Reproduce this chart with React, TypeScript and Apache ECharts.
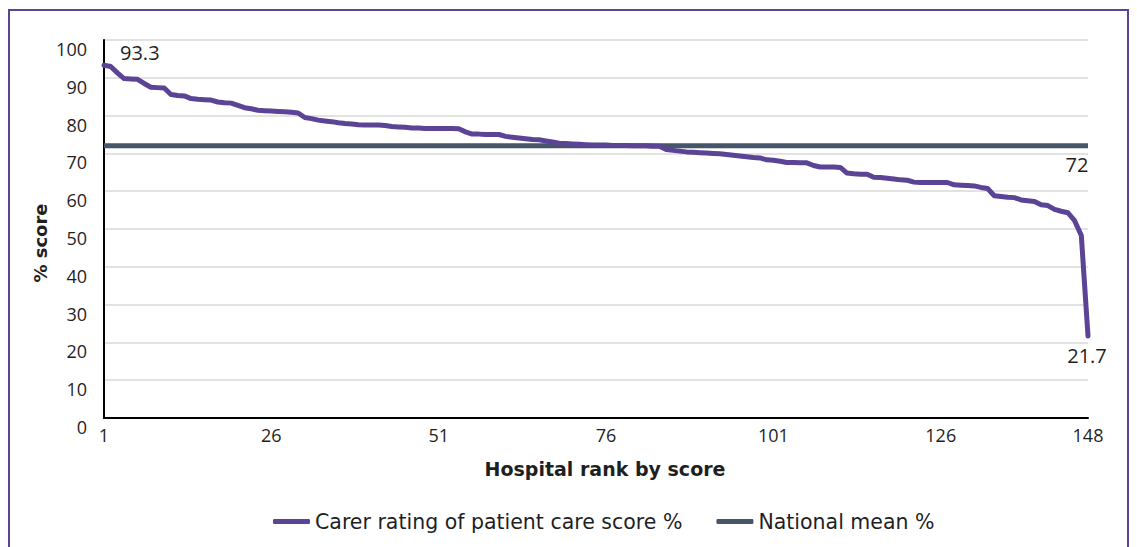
import React, { useEffect, useRef } from "react";
import * as echarts from "echarts";

const careScores: number[] = [
  93.3, 93.0, 91.3, 89.8, 89.7, 89.6, 88.5, 87.5, 87.4, 87.3,
  85.6, 85.3, 85.2, 84.5, 84.3, 84.2, 84.1, 83.6, 83.4, 83.3,
  82.7, 82.1, 81.8, 81.4, 81.3, 81.2, 81.1, 81.0, 80.9, 80.7,
  79.5, 79.2, 78.8, 78.6, 78.4, 78.1, 77.9, 77.8, 77.6, 77.5,
  77.5, 77.5, 77.4, 77.1, 77.0, 76.9, 76.7, 76.7, 76.6, 76.6,
  76.6, 76.6, 76.6, 76.5, 75.7, 75.1, 75.1, 75.0, 75.0, 75.0,
  74.5, 74.3, 74.1, 73.9, 73.7, 73.6, 73.3, 73.0, 72.7, 72.6,
  72.5, 72.4, 72.3, 72.2, 72.2, 72.2, 72.1, 72.1, 72.1, 72.0,
  72.0, 72.0, 71.9, 71.9, 71.0, 70.8, 70.6, 70.4, 70.3, 70.2,
  70.1, 70.0, 69.9, 69.7, 69.5, 69.3, 69.1, 68.9, 68.8, 68.3,
  68.2, 67.9, 67.6, 67.6, 67.5, 67.5, 66.8, 66.4, 66.4, 66.4,
  66.3, 64.8, 64.6, 64.5, 64.5, 63.7, 63.6, 63.4, 63.2, 63.0,
  62.9, 62.4, 62.3, 62.3, 62.3, 62.3, 62.3, 61.7, 61.6, 61.5,
  61.4, 61.0, 60.7, 58.8, 58.6, 58.4, 58.3, 57.7, 57.5, 57.3,
  56.4, 56.2, 55.2, 54.7, 54.3, 52.2, 48.3, 21.7,
];

const nationalMean = 72;
const ranks: string[] = careScores.map((_, i) => String(i + 1));
const shownRankLabels = [1, 26, 51, 76, 101, 126, 148];
const yTicks = { min: 0, max: 100, step: 10 };
const seriesNames = ["Carer rating of patient care score %", "National mean %"];

const FONT = "'Open Sans', 'Noto Sans', sans-serif";
const WIDE = "'DejaVu Sans', 'Open Sans', sans-serif";
const PURPLE = "#5b4496";
const SLATE = "#46556a";
const TXT = "#1f1f1f";

export default function App() {
  const ref = useRef<HTMLDivElement>(null);

  useEffect(() => {
    if (!ref.current) return;
    const chart = echarts.init(ref.current, undefined, { renderer: "svg" });
    const lastIdx = careScores.length - 1;

    const lbl = (position: string, offset: number[]) => ({
      show: true,
      position,
      offset,
      formatter: "{c}",
      fontSize: 20,
      color: TXT,
      fontFamily: FONT,
    });

    const careData = careScores.map((v, i) => {
      if (i === 0) return { value: v, label: lbl("right", [11, -13]) };
      if (i === lastIdx) return { value: v, label: lbl("bottom", [-1, 5]) };
      return v;
    });

    const meanData = ranks.map((_, i) =>
      i === lastIdx ? { value: nationalMean, label: lbl("bottom", [-11, 4]) } : nationalMean
    );

    chart.setOption({
      animation: false,
      backgroundColor: "#ffffff",
      textStyle: { fontFamily: FONT },
      grid: { left: 104, right: 49, top: 40, bottom: 129, containLabel: false },
      graphic: [
        {
          type: "rect",
          shape: { x: 9, y: 10, width: 1119, height: 600 },
          style: { fill: "none", stroke: PURPLE, lineWidth: 2 },
          silent: true,
        },
        {
          type: "text",
          x: 605,
          y: 469,
          style: {
            text: "Hospital rank by score",
            font: `bold 19px ${WIDE}`,
            fill: TXT,
            align: "center",
            verticalAlign: "middle",
          },
        },
        {
          type: "text",
          x: 40,
          y: 243,
          rotation: Math.PI / 2,
          style: {
            text: "% score",
            font: `bold 18px ${WIDE}`,
            fill: TXT,
            align: "center",
            verticalAlign: "middle",
          },
        },
      ],
      legend: {
        left: 268,
        top: 506,
        icon: "roundRect",
        itemWidth: 37,
        itemHeight: 5,
        itemGap: 34,
        textStyle: { fontSize: 20.5, color: TXT, fontFamily: WIDE },
        data: seriesNames,
      },
      xAxis: {
        type: "category",
        data: ranks,
        boundaryGap: false,
        axisLine: { lineStyle: { color: "#000", width: 2 } },
        axisTick: { show: false },
        axisLabel: {
          interval: (idx: number) => shownRankLabels.includes(idx + 1),
          fontSize: 18,
          color: TXT,
          fontFamily: FONT,
          margin: 8,
        },
        splitLine: { show: false },
      },
      yAxis: {
        type: "value",
        min: yTicks.min,
        max: yTicks.max,
        interval: yTicks.step,
        axisLine: { show: true, lineStyle: { color: "#000", width: 2 } },
        axisTick: { show: false },
        axisLabel: {
          fontSize: 18,
          color: TXT,
          fontFamily: FONT,
          margin: 17,
          verticalAlign: "top",
        },
        splitLine: { lineStyle: { color: "#d9d9d9", width: 1.5 } },
      },
      series: [
        {
          name: seriesNames[1],
          type: "line",
          data: meanData,
          showSymbol: true,
          showAllSymbol: true,
          symbol: "circle",
          symbolSize: 0,
          lineStyle: { color: SLATE, width: 5 },
          itemStyle: { color: SLATE },
          z: 2,
        },
        {
          name: seriesNames[0],
          type: "line",
          data: careData,
          showSymbol: true,
          showAllSymbol: true,
          symbol: "circle",
          symbolSize: 0,
          lineStyle: { color: PURPLE, width: 5, cap: "round", join: "round" },
          itemStyle: { color: PURPLE },
          z: 3,
        },
      ],
    });

    return () => chart.dispose();
  }, []);

  return (
    <div
      ref={ref}
      style={{ position: "fixed", left: 0, top: 0, width: 1137, height: 547 }}
    />
  );
}
